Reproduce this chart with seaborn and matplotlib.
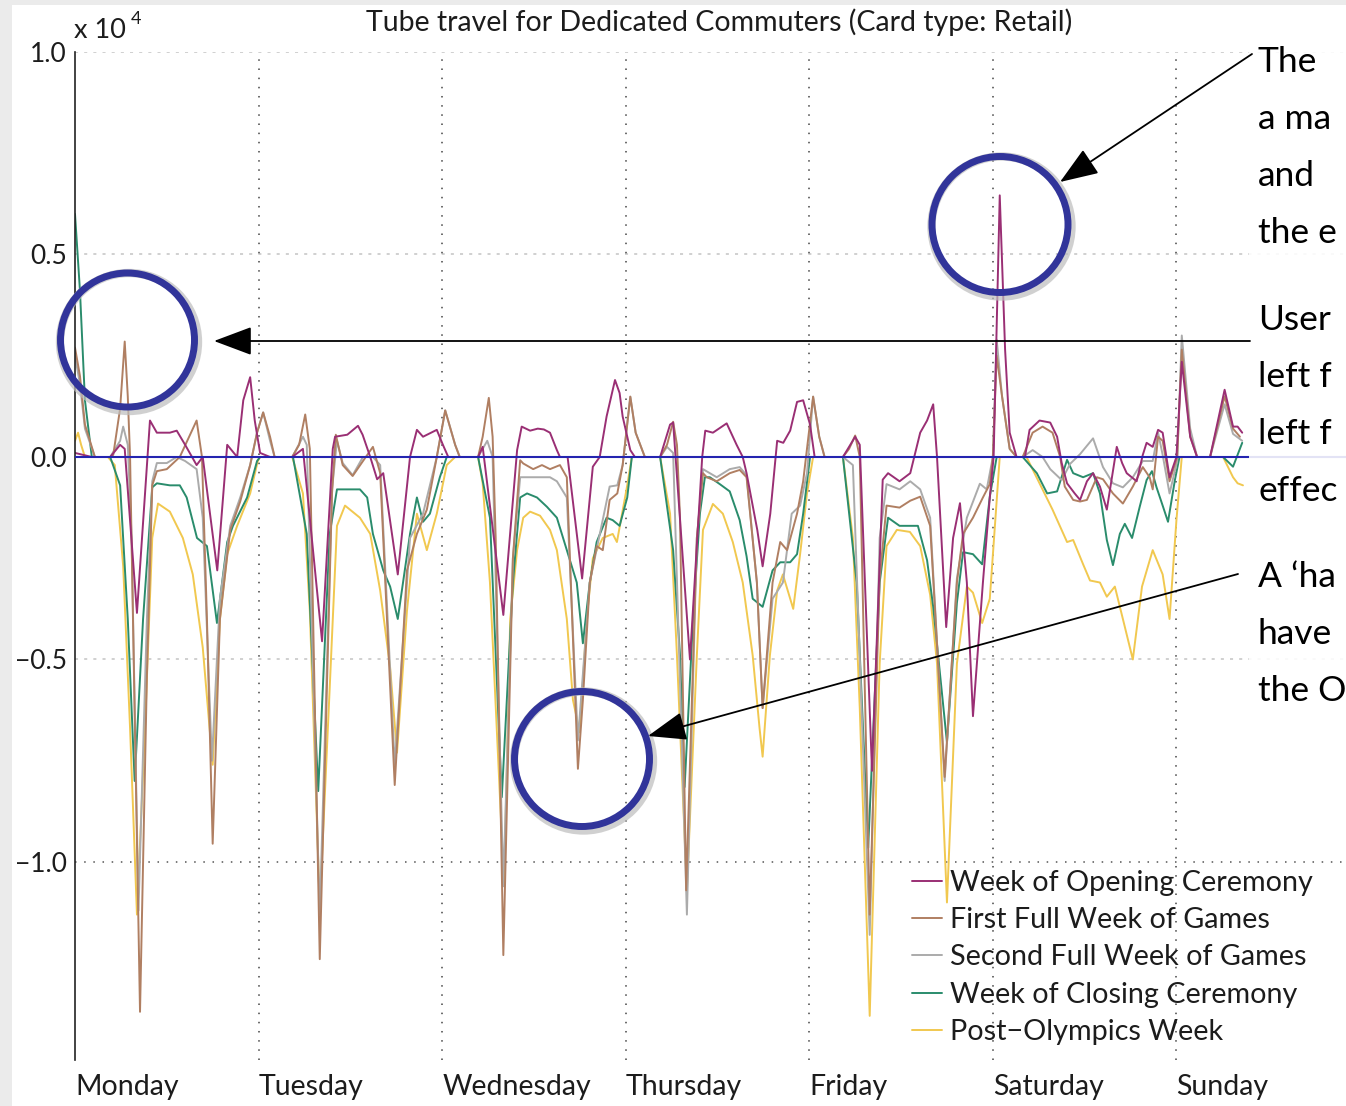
import numpy as np
import pandas as pd
import matplotlib
matplotlib.use("Agg")
import matplotlib.pyplot as plt
import seaborn as sns
from matplotlib.patches import Ellipse, Rectangle, FancyArrowPatch
from matplotlib.ticker import FuncFormatter

# ---------------------------------------------------------------------------
# Data: net change in tube trips (dedicated commuters, retail cards),
# as (hour of week, trips) pairs; hour 0 = Monday 00:00.
# ---------------------------------------------------------------------------
days = ["Monday", "Tuesday", "Wednesday", "Thursday", "Friday", "Saturday", "Sunday"]
weeks = ["Week of Opening Ceremony", "First Full Week of Games",
         "Second Full Week of Games", "Week of Closing Ceremony",
         "Post\u2212Olympics Week"]
colors = ["#9a2f74", "#b07f62", "#ababab", "#2a8c6c", "#f1c84f"]

opening = [
    (0, 100), (2.2, 0), (4.6, 0), (5.9, 300), (6.5, 200), (8.1, -3850), (9.8, 900), (10.7, 600),
    (12.4, 600), (13.3, 650), (14.4, 300), (15.9, -200), (16.7, 0), (18.6, -2800), (19.9, 300),
    (21.2, 0), (22.0, 1400), (22.9, 1970), (23.5, 900), (24.2, 100), (25.5, 0),
    (28.4, 0), (29.8, 200), (32.3, -4550), (33.7, 200), (34.0, 500), (35.6, 550), (37.0, 770),
    (37.6, 550), (38.6, 0), (39.5, -550), (40.3, -400), (42.2, -2900), (43.8, 0), (44.7, 670),
    (45.5, 500), (47.3, 670), (48.1, 300), (48.8, 0),
    (52.7, 0), (53.3, 250), (56.0, -3900), (57.8, 170), (58.4, 750), (59.5, 650), (60.5, 700),
    (61.3, 680), (62.1, 600), (63.0, 170), (63.4, 0), (64.4, 0), (66.3, -3000), (67.7, -240),
    (68.6, 0), (69.5, 1000), (70.6, 1900), (71.2, 1580), (71.6, 1000), (72.6, 170), (73.2, 0),
    (76.5, 0), (77.8, 800), (78.2, 850), (80.4, -5000), (82.0, 0), (82.4, 650), (83.4, 600),
    (85.2, 830), (86.5, 300), (87.3, 0), (87.8, -400), (89.2, -1800), (89.9, -2700), (90.9, -1400),
    (91.8, 400), (92.6, 350), (93.5, 650), (94.4, 1360), (95.2, 1400), (96.1, 800), (96.7, 0),
    (100.4, 0), (102.0, 500), (102.6, 300), (104.2, -7750), (105.6, -560), (106.3, -400),
    (107.8, -600), (109.2, -400), (110.5, 600), (111.4, 900), (112.2, 1300), (112.7, 0),
    (113.9, -4200), (114.8, -2000), (115.7, -1140), (116.6, -3100), (117.4, -6400), (118.7, -3100),
    (119.6, -1000), (120.1, 0), (120.9, 6460), (121.6, 2650), (122.2, 600), (123.1, 0),
    (124.2, 0), (124.8, 670), (126.1, 900), (127.5, 850), (128.4, 500), (129.0, -150),
    (129.7, -650), (130.7, -900), (131.4, -1060), (132.3, -600), (133.1, -400), (134.0, -730),
    (134.9, -1300), (136.2, 250), (136.9, -150), (137.5, -400), (138.8, -600), (139.6, 50),
    (140.1, 350), (140.9, 250), (141.6, 670), (142.2, 600), (143.1, -500), (144.0, 0),
    (144.7, 2350), (145.8, 500), (146.7, 0), (148.4, 0), (150.3, 1660), (151.4, 750),
    (152.0, 750), (152.6, 600),
]

first_full = [
    (0, 2700), (0.65, 2000), (1.3, 800), (2.6, 0), (4.6, 0), (5.0, 50), (5.9, 1200), (6.5, 2850),
    (6.9, 1500), (7.2, 0), (8.5, -13700), (9.4, -5400), (10.1, -700), (10.7, -350), (12.0, -300),
    (13.7, 0), (15.9, 900), (16.6, 0), (17.25, -4000), (18.0, -9550), (18.95, -4000),
    (20.3, -1800), (21.6, -1100), (22.9, -200), (23.8, 600), (24.6, 1100), (25.5, 500), (26.1, 0),
    (28.4, 0), (29.3, 300), (30.1, 1050), (30.7, 200), (32.0, -12400), (33.6, -900), (34.1, 550),
    (35.0, -200), (36.3, -470), (37.65, -100), (38.95, 250), (39.9, -400), (41.8, -8100),
    (43.4, -2800), (44.7, -1900), (46.0, -1300), (47.3, 0), (48.4, 1150), (49.7, 300), (50.3, 0),
    (52.7, 0), (53.3, 500), (54.1, 1460), (54.6, 500), (55.0, -2000), (56.0, -12300),
    (57.25, -2500), (58.2, -80), (58.6, -160), (59.9, -300), (61.05, -200), (62.1, -300),
    (63.4, -200), (64.3, -500), (65.75, -7700), (66.4, -6000), (67.3, -3100), (68.2, -2200),
    (69.0, -2300), (69.9, -1060), (70.9, -900), (71.6, -200), (72.6, 1490), (73.3, 600), (74.5, 0),
    (76.5, 0), (77.4, 300), (78.2, 870), (78.7, 300), (79.1, -1500), (79.9, -10700),
    (81.3, -2000), (82.1, -400), (82.6, -500), (83.9, -600), (85.6, -400), (86.9, -320),
    (87.8, -500), (89.15, -3100), (89.9, -6200), (91.2, -3100), (92.2, -2100), (93.1, -2300),
    (94.4, -1400), (95.2, -600), (96.5, 1490), (97.3, 500), (98.0, 0),
    (100.4, 0), (101.2, 200), (102.0, 530), (102.6, 0), (103.9, -11300), (105.2, -3000),
    (106.1, -1200), (107.8, -1250), (109.2, -1080), (110.5, -980), (111.8, -1700),
    (113.7, -7900), (115.3, -3100), (116.1, -1900), (117.4, -1500), (118.7, -1000),
    (119.6, -670), (120.0, 0), (120.5, 2500), (121.2, 1500), (122.2, 200), (123.1, 0),
    (123.9, 0), (125.2, 600), (126.5, 750), (127.8, 600), (128.8, 0), (129.4, -730),
    (130.5, -1060), (131.4, -1100), (132.3, -1060), (133.6, -500), (134.4, -550), (135.7, -900),
    (137.0, -1150), (138.3, -730), (139.6, -250), (140.5, -500), (140.9, -800), (141.6, 500),
    (142.2, 400), (143.1, -600), (144.1, 0), (144.7, 2650), (145.8, 500), (146.7, 0),
    (148.4, 0), (150.3, 1500), (151.4, 700), (152.3, 500),
]

second_full = [
    (0, 2500), (0.65, 1800), (1.3, 700), (2.6, 0), (4.6, 0), (5.9, 400), (6.3, 750), (6.9, 300),
    (7.4, -2000), (8.3, -11200), (9.4, -4000), (10.1, -600), (10.7, -150), (12.0, -150),
    (13.3, 0), (14.4, -100), (15.9, -300), (16.7, -1500), (17.9, -7500), (18.95, -3500),
    (20.3, -1700), (21.6, -1000), (22.9, -200), (23.8, 600), (24.6, 1100), (25.5, 400), (26.1, 0),
    (28.4, 0), (29.8, 500), (30.3, 300), (32.0, -11300), (33.6, -800), (34.25, 400),
    (35.0, -150), (36.3, -450), (37.65, 0), (38.95, 0), (39.9, -200), (41.8, -7600),
    (43.8, -2000), (45.5, -1400), (47.3, 0), (48.4, 1150), (49.7, 300), (50.3, 0),
    (52.7, 0), (53.9, 400), (54.6, 0), (56.0, -10600), (57.25, -2500), (58.2, -500),
    (59.9, -500), (62.1, -500), (63.0, -600), (64.3, -1000), (65.75, -7000), (67.3, -3100),
    (69.9, -730), (70.9, -700), (71.6, -200), (72.6, 1490), (73.3, 600), (74.5, 0),
    (76.5, 0), (77.4, 250), (78.2, 100), (80.0, -11300), (81.3, -2000), (82.1, -300),
    (83.9, -500), (85.6, -300), (86.9, -250), (87.8, -450), (89.15, -3100), (89.9, -6200),
    (91.2, -3500), (92.55, -3100), (93.7, -1400), (94.8, -1200), (95.7, -400), (96.5, 1490),
    (97.3, 500), (98.0, 0),
    (100.4, 0), (101.7, -200), (103.9, -11800), (105.2, -2000), (106.1, -670), (107.8, -800),
    (109.2, -600), (110.5, -800), (111.8, -1500), (113.7, -8000), (115.3, -3000),
    (116.6, -1500), (118.3, -660), (119.2, -800), (120.0, 0), (120.5, 2900), (121.2, 1500),
    (122.2, 200), (123.1, 0),
    (123.9, 0), (125.2, 170), (126.5, 0), (127.5, -300), (129.0, -570), (130.1, -170),
    (131.4, 70), (133.1, 460), (134.4, -250), (135.7, -650), (137.0, -750), (138.3, -500),
    (139.6, -100), (140.9, -100), (141.6, 600), (142.2, 50), (143.1, -900), (144.1, -100),
    (144.7, 3000), (145.8, 700), (146.7, 0), (148.4, 0), (150.3, 1300), (151.4, 570),
    (152.6, 400),
]

closing = [
    (0, 6000), (0.65, 4100), (1.3, 1400), (2.2, 0), (4.6, 0), (5.9, -700), (6.9, -4000),
    (7.8, -8000), (8.9, -4000), (10.1, -750), (10.7, -650), (12.4, -700), (13.7, -700),
    (14.6, -1000), (15.95, -2000), (17.25, -2200), (18.56, -4100), (19.9, -2100),
    (20.65, -1700), (22.5, -1000), (23.8, -100), (24.2, 0),
    (28.5, 0), (30.3, -1900), (31.8, -8250), (33.3, -1900), (34.25, -800), (35.95, -800),
    (37.25, -800), (38.2, -1000), (38.95, -1900), (40.3, -2800), (41.2, -3200), (42.2, -4000),
    (43.8, -1900), (44.7, -1000), (45.5, -1600), (46.4, -1400), (47.7, -500), (48.6, 0),
    (52.7, 0), (54.25, -1500), (55.8, -8400), (57.25, -3100), (58.2, -1000), (59.1, -900),
    (60.4, -1000), (61.7, -1230), (63.0, -1500), (64.3, -2300), (65.6, -3100), (66.4, -4600),
    (67.3, -3100), (68.2, -2100), (69.5, -1500), (70.3, -1560), (71.2, -1700), (72.2, -1000),
    (72.8, 0),
    (76.5, 0), (78.2, -2300), (79.1, -4900), (79.7, -8150), (80.8, -4000), (81.7, -1400),
    (82.35, -500), (83.0, -500), (84.3, -670), (85.6, -850), (86.9, -1560), (87.8, -2450),
    (88.6, -3500), (89.9, -3700), (91.2, -2800), (92.2, -2600), (93.5, -2600), (94.4, -2400),
    (95.2, -1400), (96.1, 0),
    (100.4, 0), (102.2, -3100), (103.7, -9650), (105.2, -3100), (106.3, -1500), (107.8, -1700),
    (109.2, -1700), (110.2, -1700), (111.4, -2550), (112.2, -3700), (114.0, -7050),
    (115.3, -3600), (116.1, -2350), (117.4, -2400), (118.6, -2650), (119.6, -980), (120.5, 0),
    (123.9, 0), (125.75, -400), (127.1, -900), (128.4, -850), (129.7, -70), (130.5, -400),
    (131.8, -500), (133.1, -400), (134.0, -900), (134.9, -2050), (135.7, -2670), (136.6, -1900),
    (137.25, -1650), (138.2, -2000), (139.2, -1230), (140.1, -570), (140.8, -350),
    (141.4, -750), (142.2, -1200), (142.9, -1600), (143.8, -570), (144.4, 0), (150.1, 0),
    (151.4, -240), (152.6, 350),
]

post_games = [
    (0, 400), (0.4, 600), (0.8, 300), (1.3, 0), (4.3, 0), (5.2, -200), (6.3, -2700),
    (7.2, -6700), (8.1, -11300), (9.15, -6700), (10.1, -2000), (10.85, -1150), (12.4, -1350),
    (14.1, -2000), (15.4, -2900), (16.7, -4700), (18.0, -7600), (18.95, -4000), (19.9, -2400),
    (21.2, -1700), (22.9, -900), (23.9, -100), (24.2, 0),
    (28.4, 0), (29.8, -900), (30.7, -3800), (32.0, -11100), (33.3, -5700), (34.25, -1700),
    (35.3, -1200), (37.25, -1500), (38.6, -1900), (39.9, -3300), (41.2, -5200), (42.1, -7300),
    (43.4, -3800), (44.7, -1400), (46.0, -2300), (47.3, -1400), (48.6, -200), (49.7, 0),
    (52.7, 0), (53.3, -650), (54.25, -3100), (56.1, -10600), (56.9, -4000), (57.8, -2300),
    (58.6, -1500), (59.5, -1350), (60.8, -1450), (62.1, -1800), (63.0, -2300), (64.3, -4000),
    (65.1, -6000), (66.0, -6800), (66.9, -4000), (67.7, -2500), (69.0, -2000), (70.3, -1900),
    (70.85, -2100), (72.2, -700), (72.8, 0),
    (76.5, 0), (77.8, -1400), (78.7, -4900), (80.0, -10700), (81.3, -4900), (82.1, -1800),
    (83.4, -1160), (84.7, -1400), (86.0, -2100), (87.3, -3100), (88.6, -4900), (89.5, -6700),
    (89.9, -7400), (90.85, -4900), (91.8, -3300), (92.55, -2900), (93.9, -3750), (94.8, -2400),
    (95.7, -900), (96.5, 0),
    (100.4, 0), (101.7, -2000), (102.6, -6200), (103.9, -13800), (105.2, -5100),
    (106.1, -2200), (107.45, -1800), (109.15, -1850), (110.5, -2200), (111.8, -3400),
    (112.7, -5100), (114.0, -11000), (115.3, -5100), (116.6, -3200), (117.4, -3350),
    (118.6, -4100), (119.6, -3500), (120.9, 0),
    (124.4, 0), (126.1, -650), (127.8, -1300), (129.7, -2100), (130.5, -2050), (131.8, -2650),
    (132.7, -3050), (134.0, -3100), (134.9, -3450), (135.95, -3200), (137.0, -4000),
    (138.3, -5000), (139.5, -3200), (140.9, -2300), (142.2, -2900), (143.1, -4000),
    (144.0, -1560), (144.7, 0), (150.1, 0), (151.4, -500), (152.0, -650), (152.7, -700),
]

title = "Tube travel for Dedicated Commuters (Card type: Retail)"
note_groups = [
    ["The", "a ma", "and", "the e"],
    ["User", "left f", "left f", "effec"],
    ["A \u2018ha", "have", "the O"],
]

# ---------------------------------------------------------------------------
W, H = 1346, 1106


def fx(x):
    return x / W


def fy(y):
    return 1 - y / H


sns.set_theme(style="white")
plt.rcParams["font.family"] = ["Lato", "DejaVu Sans"]
plt.rcParams["axes.unicode_minus"] = True
text_color = "#1c1c1c"

fig = plt.figure(figsize=(W / 100, H / 100), dpi=100, facecolor="#ebebeb")
fig.add_artist(Rectangle((fx(12), 0), 1, fy(5), transform=fig.transFigure,
                         facecolor="white", edgecolor="none", zorder=-10))

ax = fig.add_axes([fx(75), fy(1060), (1360 - 75) / W, (1060 - 52) / H])
ax.set_facecolor("white")

frames = []
for name, pts in zip(weeks, [opening, first_full, second_full, closing, post_games]):
    hrs, trips = zip(*pts)
    frames.append(pd.DataFrame({"hour": hrs, "trips": trips, "week": name}))
df = pd.concat(frames, ignore_index=True)

# draw later weeks first so the opening-ceremony week sits on top
for name, col in reversed(list(zip(weeks, colors))):
    sns.lineplot(data=df[df["week"] == name], x="hour", y="trips", color=col,
                 lw=1.4, estimator=None, sort=False, label=name, ax=ax, zorder=2)

# grid
for yv in (10000, 5000, -5000):
    ax.axhline(yv, color="#c4c4c4", lw=1.1, ls=(0, (2, 4)), zorder=1)
ax.axhline(-10000, color="#555555", lw=1.1, ls=(0, (1, 5)), zorder=1)
for xv in range(24, 168, 24):
    ax.axvline(xv, color="#444444", lw=1.1, ls=(0, (1, 5)), zorder=1)
ax.axhline(0, color="#2424b0", lw=1.5, zorder=3)

ax.set_xlim(0, 168)
ax.set_ylim(-14890, 10000)
ax.set_xticks(np.arange(0, 168, 24))
ax.set_xticklabels(days, ha="left", fontsize=20.5, color=text_color)
ax.tick_params(axis="x", length=0, pad=10)
ax.set_yticks([-10000, -5000, 0, 5000, 10000])
ax.yaxis.set_major_formatter(FuncFormatter(lambda v, _: f"{v / 1e4:.1f}".replace("-", "\u2212")))
ax.tick_params(axis="y", length=0, pad=6, labelsize=19, labelcolor=text_color)
ax.set_xlabel("")
ax.set_ylabel("")
for side in ("top", "right", "bottom"):
    ax.spines[side].set_visible(False)
ax.spines["left"].set_color("#222222")
ax.spines["left"].set_linewidth(1.2)

handles, labels = ax.get_legend_handles_labels()
lookup = dict(zip(labels, handles))
ax.legend([lookup[w] for w in weeks], weeks, loc="upper left",
          bbox_to_anchor=(fx(912), fy(870)), bbox_transform=fig.transFigure,
          frameon=False, fontsize=20.7, handlelength=1.05, handletextpad=0.28,
          labelspacing=0.39, borderpad=0, borderaxespad=0, labelcolor=text_color)

fig.text(fx(719), fy(22), title, ha="center", va="center", fontsize=20.5, color=text_color)
fig.text(fx(74), fy(31), "x 10", ha="left", va="center", fontsize=19.5, color=text_color)
fig.text(fx(131), fy(19), "4", ha="left", va="center", fontsize=13, color=text_color)

# translucent panel behind the notes
fig.add_artist(Rectangle((fx(1249), fy(728)), 1, (728 - 36) / H, transform=fig.transFigure,
                         facecolor="white", edgecolor="none", alpha=0.88, zorder=5))

for lines, top in zip(note_groups, (62, 320, 577)):
    for i, line in enumerate(lines):
        fig.text(fx(1258), fy(top + 57 * i), line, ha="left", va="center",
                 fontsize=25.5, color="black", zorder=9)

# highlight rings
ring = "#31349a"
for cx, cy, r in ((127.5, 340, 67), (1000, 224.5, 68), (582, 759, 67.5)):
    fig.add_artist(Ellipse((fx(cx + 1.5), fy(cy + 2)), 2 * (r + 2) / W, 2 * (r + 2) / H,
                           transform=fig.transFigure, fill=False, edgecolor="#bdbdbd",
                           lw=6, alpha=0.7, zorder=6))
    fig.add_artist(Ellipse((fx(cx), fy(cy)), 2 * r / W, 2 * r / H,
                           transform=fig.transFigure, fill=False, edgecolor=ring,
                           lw=5, zorder=7))

# pointer arrows
for tail, tip in (((1252, 54), (1060, 182)), ((1250, 341), (214, 341)), ((1238, 574), (648, 736))):
    fig.add_artist(FancyArrowPatch((fx(tail[0]), fy(tail[1])), (fx(tip[0]), fy(tip[1])),
                                   transform=fig.transFigure,
                                   arrowstyle="-|>,head_length=1.2,head_width=0.45",
                                   mutation_scale=20, color="black", lw=1.3,
                                   shrinkA=0, shrinkB=0, zorder=8))

fig.savefig("out.png", dpi=100, facecolor=fig.get_facecolor())
